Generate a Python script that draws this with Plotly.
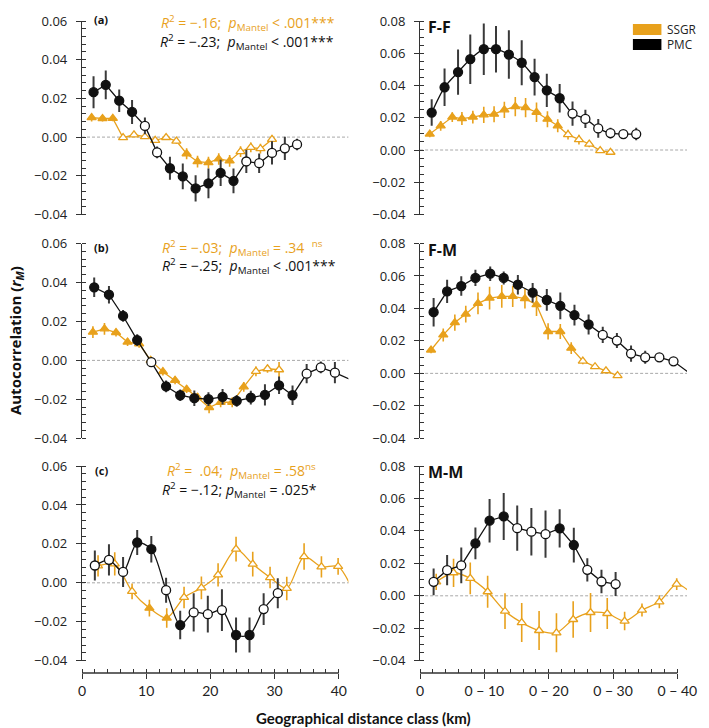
import plotly.graph_objects as go

ORANGE = "#E8A11C"
BLACK = "#111111"

# ---------------- data ----------------
# Panel (a)
a_pmc_x = [1.8, 3.7, 5.8, 7.8, 9.8, 11.7, 13.7, 15.7, 17.7, 19.7, 21.6, 23.6, 25.6, 27.6, 29.6, 31.6, 33.5]
a_pmc_y = [0.0232, 0.0270, 0.0188, 0.0130, 0.0058, -0.0079, -0.0161, -0.0203, -0.0265, -0.0239, -0.0185, -0.0226, -0.0126, -0.0135, -0.0082, -0.0058, -0.0038]
a_pmc_e = [0.0083, 0.0074, 0.0058, 0.0062, 0.0043, 0.0030, 0.0060, 0.0067, 0.0068, 0.0077, 0.0068, 0.0064, 0.0060, 0.0050, 0.0060, 0.0060, 0.0030]
a_pmc_sig = [1, 1, 1, 1, 0, 0, 1, 1, 1, 1, 1, 1, 0, 0, 0, 0, 0]
a_ssgr_x = [1.5, 3.2, 4.8, 6.4, 8.1, 9.8, 11.4, 13.1, 14.7, 16.3, 18.0, 19.7, 21.3, 23.0, 24.7, 26.3, 27.8, 29.6]
a_ssgr_y = [0.0101, 0.0096, 0.0097, -0.0003, 0.0012, 0.0002, -0.0017, -0.0002, -0.0021, -0.0086, -0.0127, -0.0132, -0.0113, -0.0123, -0.0075, -0.0053, -0.0060, -0.0012]
a_ssgr_e = [0.0020, 0.0015, 0.0015, 0.0010, 0.0010, 0.0010, 0.0012, 0.0012, 0.0015, 0.0028, 0.0030, 0.0030, 0.0030, 0.0030, 0.0028, 0.0025, 0.0025, 0.0020]
a_ssgr_sig = [1, 1, 1, 0, 0, 0, 0, 0, 0, 1, 1, 1, 1, 1, 0, 0, 0, 0]

# Panel (b)
b_pmc_x = [1.9, 4.2, 6.4, 8.6, 10.8, 13.1, 15.3, 17.5, 19.7, 21.9, 24.1, 26.3, 28.5, 30.7, 32.8, 35.0, 37.2, 39.4]
b_pmc_y = [0.0375, 0.0337, 0.0228, 0.0104, -0.0009, -0.0133, -0.0179, -0.0194, -0.0199, -0.0187, -0.0208, -0.0191, -0.0177, -0.0128, -0.0179, -0.0068, -0.0036, -0.0063]
b_pmc_e = [0.0050, 0.0045, 0.0030, 0.0030, 0.0020, 0.0030, 0.0030, 0.0040, 0.0035, 0.0040, 0.0030, 0.0035, 0.0055, 0.0045, 0.0050, 0.0050, 0.0030, 0.0055]
b_pmc_sig = [1, 1, 1, 1, 0, 1, 1, 1, 1, 1, 1, 1, 1, 1, 1, 0, 0, 0]
b_pmc_next = (41.6, -0.0095)
b_ssgr_x = [1.7, 3.5, 5.3, 7.1, 8.9, 10.7, 12.6, 14.5, 16.3, 18.0, 19.8, 21.6, 23.4, 25.2, 27.1, 28.9, 30.7]
b_ssgr_y = [0.0145, 0.0162, 0.0143, 0.0094, 0.0085, 0.0000, -0.0058, -0.0102, -0.0148, -0.0190, -0.0242, -0.0215, -0.0215, -0.0136, -0.0056, -0.0043, -0.0048]
b_ssgr_e = [0.0030, 0.0030, 0.0020, 0.0020, 0.0020, 0.0020, 0.0020, 0.0020, 0.0020, 0.0022, 0.0030, 0.0025, 0.0025, 0.0025, 0.0025, 0.0020, 0.0040]
b_ssgr_sig = [1, 1, 1, 1, 1, 0, 1, 1, 1, 1, 1, 1, 1, 1, 0, 0, 0]

# Panel (c)
c_pmc_x = [2.0, 4.2, 6.4, 8.6, 10.8, 13.1, 15.3, 17.4, 19.6, 21.8, 24.0, 26.1, 28.3, 30.5]
c_pmc_y = [0.0089, 0.0118, 0.0056, 0.0207, 0.0173, -0.0038, -0.0217, -0.0152, -0.0161, -0.0140, -0.0268, -0.0268, -0.0135, -0.0053]
c_pmc_e = [0.0077, 0.0080, 0.0077, 0.0064, 0.0068, 0.0064, 0.0073, 0.0098, 0.0094, 0.0107, 0.0090, 0.0090, 0.0081, 0.0077]
c_pmc_sig = [0, 0, 0, 1, 1, 0, 1, 0, 0, 0, 1, 1, 0, 0]
c_ssgr_x = [2.5, 5.1, 7.8, 10.5, 13.2, 15.9, 18.6, 21.2, 24.0, 26.6, 29.3, 31.9, 34.6, 37.3, 39.9]
c_ssgr_y = [0.0087, 0.0097, -0.0044, -0.0130, -0.0181, -0.0075, -0.0026, 0.0041, 0.0173, 0.0096, 0.0027, -0.0029, 0.0135, 0.0082, 0.0084]
c_ssgr_e = [0.0055, 0.0060, 0.0040, 0.0043, 0.0050, 0.0055, 0.0058, 0.0060, 0.0064, 0.0064, 0.0055, 0.0060, 0.0068, 0.0055, 0.0043]
c_ssgr_sig = [0, 0, 0, 1, 1, 0, 0, 0, 0, 0, 0, 0, 0, 0, 0]
c_ssgr_next = (42.5, -0.0060)

# Panel F-F
ff_pmc_x = [1.8, 3.8, 5.9, 7.8, 9.9, 11.8, 13.8, 15.8, 17.8, 19.7, 21.7, 23.7, 25.7, 27.7, 29.6, 31.6, 33.6]
ff_pmc_y = [0.0232, 0.0389, 0.0483, 0.0563, 0.0625, 0.0625, 0.0592, 0.0541, 0.0452, 0.0370, 0.0321, 0.0226, 0.0193, 0.0134, 0.0105, 0.0099, 0.0099]
ff_pmc_e = [0.0082, 0.0116, 0.0140, 0.0154, 0.0160, 0.0144, 0.0150, 0.0139, 0.0114, 0.0103, 0.0088, 0.0075, 0.0057, 0.0058, 0.0033, 0.0020, 0.0039]
ff_pmc_sig = [1, 1, 1, 1, 1, 1, 1, 1, 1, 1, 1, 0, 0, 0, 0, 0, 0]
ff_ssgr_x = [1.5, 3.2, 5.0, 6.5, 8.2, 9.9, 11.5, 13.1, 14.8, 16.4, 18.1, 19.8, 21.4, 23.0, 24.7, 26.3, 28.0, 29.6]
ff_ssgr_y = [0.0099, 0.0150, 0.0204, 0.0195, 0.0204, 0.0218, 0.0222, 0.0249, 0.0269, 0.0263, 0.0234, 0.0191, 0.0150, 0.0095, 0.0064, 0.0037, -0.0004, -0.0014]
ff_ssgr_e = [0.0020, 0.0030, 0.0030, 0.0040, 0.0040, 0.0050, 0.0050, 0.0050, 0.0060, 0.0060, 0.0060, 0.0050, 0.0040, 0.0030, 0.0030, 0.0020, 0.0010, 0.0010]
ff_ssgr_sig = [1, 1, 1, 1, 1, 1, 1, 1, 1, 1, 1, 1, 1, 0, 0, 0, 0, 0]

# Panel F-M
fm_pmc_x = [2.1, 4.2, 6.4, 8.6, 10.9, 13.0, 15.2, 17.5, 19.7, 21.8, 24.0, 26.2, 28.4, 30.6, 32.8, 35.0, 37.2, 39.4]
fm_pmc_y = [0.0377, 0.0505, 0.0538, 0.0588, 0.0614, 0.0588, 0.0546, 0.0497, 0.0452, 0.0416, 0.0359, 0.0301, 0.0237, 0.0202, 0.0122, 0.0099, 0.0099, 0.0074]
fm_pmc_e = [0.0088, 0.0072, 0.0060, 0.0050, 0.0045, 0.0040, 0.0060, 0.0060, 0.0067, 0.0082, 0.0064, 0.0062, 0.0050, 0.0046, 0.0050, 0.0040, 0.0026, 0.0020]
fm_pmc_sig = [1, 1, 1, 1, 1, 1, 1, 1, 1, 1, 1, 1, 0, 0, 0, 0, 0, 0]
fm_pmc_next = (41.6, 0.0010)
fm_ssgr_x = [1.7, 3.6, 5.4, 7.1, 9.0, 10.8, 12.7, 14.4, 16.3, 18.1, 19.9, 21.8, 23.5, 25.3, 27.2, 28.9, 30.7]
fm_ssgr_y = [0.0144, 0.0237, 0.0313, 0.0365, 0.0431, 0.0464, 0.0474, 0.0474, 0.0460, 0.0423, 0.0258, 0.0258, 0.0155, 0.0076, 0.0041, 0.0016, -0.0014]
fm_ssgr_e = [0.0020, 0.0040, 0.0050, 0.0052, 0.0067, 0.0070, 0.0070, 0.0065, 0.0060, 0.0070, 0.0050, 0.0046, 0.0036, 0.0020, 0.0010, 0.0010, 0.0010]
fm_ssgr_sig = [1, 1, 1, 1, 1, 1, 1, 1, 1, 1, 1, 1, 1, 0, 0, 0, 0]

# Panel M-M
mm_pmc_x = [2.1, 4.2, 6.4, 8.6, 10.8, 13.0, 15.1, 17.3, 19.5, 21.7, 23.9, 26.0, 28.2, 30.4]
mm_pmc_y = [0.0086, 0.0158, 0.0187, 0.0323, 0.0463, 0.0489, 0.0417, 0.0395, 0.0380, 0.0415, 0.0313, 0.0160, 0.0088, 0.0072]
mm_pmc_e = [0.0082, 0.0093, 0.0110, 0.0098, 0.0134, 0.0145, 0.0139, 0.0146, 0.0146, 0.0118, 0.0107, 0.0072, 0.0072, 0.0074]
mm_pmc_sig = [0, 0, 0, 1, 1, 1, 0, 0, 0, 1, 1, 0, 0, 0]
mm_ssgr_x = [2.5, 5.2, 7.8, 10.5, 13.2, 15.8, 18.5, 21.2, 23.8, 26.5, 29.1, 31.8, 34.5, 37.2, 39.9]
mm_ssgr_y = [0.0086, 0.0142, 0.0107, 0.0025, -0.0095, -0.0165, -0.0214, -0.0228, -0.0146, -0.0103, -0.0109, -0.0156, -0.0088, -0.0037, 0.0072]
mm_ssgr_e = [0.0050, 0.0087, 0.0098, 0.0098, 0.0110, 0.0120, 0.0120, 0.0120, 0.0113, 0.0120, 0.0095, 0.0057, 0.0040, 0.0040, 0.0036]
mm_ssgr_sig = [0, 0, 0, 0, 0, 0, 0, 0, 0, 0, 0, 0, 0, 0, 0]
mm_ssgr_next = (42.5, 0.0005)

left_ticks = [0, 10, 20, 30, 40]
left_ticktext = ["0", "10", "20", "30", "40"]
right_ticktext = ["0", "0 \u2212 10", "0 \u2212 20", "0 \u2212 30", "0 \u2212 40"]

SP = "\u00a0\u00a0"
stats = {
    1: [(f"<i>R</i><sup>2</sup> = \u2212.16;{SP}<i>p</i><sub>Mantel</sub> < .001***", ORANGE),
        (f"<i>R</i><sup>2</sup> = \u2212.23;{SP}<i>p</i><sub>Mantel</sub> < .001***", BLACK)],
    3: [(f"<i>R</i><sup>2</sup> = \u2212.03;{SP}<i>p</i><sub>Mantel</sub> = .34{SP}<sup>ns</sup>", ORANGE),
        (f"<i>R</i><sup>2</sup> = \u2212.25;{SP}<i>p</i><sub>Mantel</sub> < .001***", BLACK)],
    5: [(f"<i>R</i><sup>2</sup> =\u00a0 .04;{SP}<i>p</i><sub>Mantel</sub> = .58<sup>ns</sup>", ORANGE),
        (f"<i>R</i><sup>2</sup> = \u2212.12;\u00a0<i>p</i><sub>Mantel</sub> = .025*", BLACK)],
}
panel_labels = {1: "(a)", 3: "(b)", 5: "(c)", 2: "F-F", 4: "F-M", 6: "M-M"}
legend_names = ["SSGR", "PMC"]

# ---------------- geometry ----------------
W, H = 709, 728
ML, MR, MT, MB = 82, 12, 21, 55
PW = W - ML - MR
PH = H - MT - MB


def px(x):
    return (x - ML) / PW


def py(y):
    return (H - MB - y) / PH


XMAX = 41.5
left_dom = [0, px(82 + XMAX * 6.525)]
right_dom = [px(425.7), 1.0]
row_px = {1: (21, 214.5), 2: (243.5, 438.3), 3: (466, 660.7)}

fig = go.Figure()


def ax(n, kind):
    return kind if n == 1 else f"{kind}{n}"


def add_series(n, x, y, e, sig, color, symbol, size, spline, nxt=None, ecolor=None, ethick=1.6):
    xs = list(x)
    ys = list(y)
    es = list(e)
    fills = [color if s else "white" for s in sig]
    sizes = [size] * len(x)
    ops = [1] * len(x)
    if nxt is not None:
        xs.append(nxt[0]); ys.append(nxt[1]); es.append(0)
        fills.append(color); sizes.append(0); ops.append(0)
    fig.add_trace(go.Scatter(
        x=xs, y=ys, xaxis=ax(n, "x"), yaxis=ax(n, "y"),
        mode="lines+markers",
        line=dict(color=color, width=1.3, shape="spline" if spline else "linear", smoothing=0.8),
        marker=dict(symbol=symbol, size=sizes, color=fills, opacity=ops,
                    line=dict(color=color, width=1.3)),
        error_y=dict(type="data", array=es, visible=True, width=0,
                     color=ecolor or color, thickness=ethick),
        showlegend=False, hoverinfo="skip", cliponaxis=False,
    ))


OR_E = ORANGE
BK_E = "#3a3a3a"

add_series(1, a_ssgr_x, a_ssgr_y, a_ssgr_e, a_ssgr_sig, ORANGE, "triangle-up", 8, False, ecolor=OR_E)
add_series(1, a_pmc_x, a_pmc_y, a_pmc_e, a_pmc_sig, BLACK, "circle", 9, False, ecolor=BK_E, ethick=2)
add_series(2, ff_ssgr_x, ff_ssgr_y, ff_ssgr_e, ff_ssgr_sig, ORANGE, "triangle-up", 8, False, ecolor=OR_E)
add_series(2, ff_pmc_x, ff_pmc_y, ff_pmc_e, ff_pmc_sig, BLACK, "circle", 9, True, ecolor=BK_E, ethick=2)
add_series(3, b_ssgr_x, b_ssgr_y, b_ssgr_e, b_ssgr_sig, ORANGE, "triangle-up", 8, False, ecolor=OR_E)
add_series(3, b_pmc_x, b_pmc_y, b_pmc_e, b_pmc_sig, BLACK, "circle", 9, False, b_pmc_next, ecolor=BK_E, ethick=2)
add_series(4, fm_ssgr_x, fm_ssgr_y, fm_ssgr_e, fm_ssgr_sig, ORANGE, "triangle-up", 8, False, ecolor=OR_E)
add_series(4, fm_pmc_x, fm_pmc_y, fm_pmc_e, fm_pmc_sig, BLACK, "circle", 9, False, fm_pmc_next, ecolor=BK_E, ethick=2)
add_series(5, c_ssgr_x, c_ssgr_y, c_ssgr_e, c_ssgr_sig, ORANGE, "triangle-up", 8, True, c_ssgr_next, ecolor=OR_E)
add_series(5, c_pmc_x, c_pmc_y, c_pmc_e, c_pmc_sig, BLACK, "circle", 9, True, ecolor=BK_E, ethick=2)
add_series(6, mm_ssgr_x, mm_ssgr_y, mm_ssgr_e, mm_ssgr_sig, ORANGE, "triangle-up", 8, True, mm_ssgr_next, ecolor=OR_E)
add_series(6, mm_pmc_x, mm_pmc_y, mm_pmc_e, mm_pmc_sig, BLACK, "circle", 9, False, ecolor=BK_E, ethick=2)

layout = dict(
    width=W, height=H, margin=dict(l=ML, r=MR, t=MT, b=MB),
    paper_bgcolor="white", plot_bgcolor="white",
    font=dict(family="Open Sans, sans-serif", color="#222"),
    showlegend=False,
)
AX_COL = "#333"
shapes = []
annotations = []
for n in range(1, 7):
    row = (n + 1) // 2
    left = (n % 2 == 1)
    y0px, y1px = row_px[row]
    xa = dict(domain=left_dom if left else right_dom, range=[0, XMAX],
              showgrid=False, zeroline=False, showline=False, fixedrange=True)
    if row < 3:
        xa.update(visible=False, anchor=ax(n, "y"))
    else:
        xa.update(anchor="free", position=0, tickmode="array", tickvals=left_ticks,
                  ticktext=left_ticktext if left else right_ticktext,
                  ticks="outside", ticklen=5, tickwidth=1.2, tickcolor=AX_COL,
                  tickfont=dict(family="Lato, sans-serif", size=14, color="#222"),
                  minor=dict(ticks="inside", ticklen=4, dtick=2, tick0=0, tickwidth=1, tickcolor=AX_COL,
                             showgrid=False))
        shapes.append(dict(type="line", xref=ax(n, "x"), yref="paper", x0=0, x1=40, y0=0, y1=0,
                           line=dict(color=AX_COL, width=1.3)))
    ya = dict(domain=[py(y1px), py(y0px)], anchor=ax(n, "x"),
              range=[-0.04, 0.06] if left else [-0.04, 0.08],
              tickmode="array",
              tickvals=[-0.04, -0.02, 0, 0.02, 0.04, 0.06] if left else [-0.04, -0.02, 0, 0.02, 0.04, 0.06, 0.08],
              tickformat=".2f", ticks="outside", ticklen=5, tickwidth=1.2, tickcolor=AX_COL,
              showline=True, linecolor=AX_COL, linewidth=1.3, showgrid=False, zeroline=False,
              ticklabelstandoff=6,
              tickfont=dict(family="Open Sans, sans-serif", size=13, color="#222"),
              minor=dict(ticks="inside", ticklen=4, dtick=0.005 if not left else 0.004, tick0=0,
                         tickwidth=1, tickcolor=AX_COL, showgrid=False),
              fixedrange=True)
    layout["xaxis" if n == 1 else f"xaxis{n}"] = xa
    layout["yaxis" if n == 1 else f"yaxis{n}"] = ya
    # zero dashed line
    shapes.append(dict(type="line", xref=f"{ax(n, 'x')} domain", yref=ax(n, "y"), x0=0, x1=1, y0=0, y1=0,
                       line=dict(color="#a8a8a8", width=1, dash="3px,2px"), layer="below"))

# panel labels
lab_pos = {1: (92, 20), 3: (92.5, 247.5), 5: (93, 470.5), 2: (431.5, 27), 4: (431.5, 250), 6: (431.5, 472)}
for n, t in panel_labels.items():
    xx, yy = lab_pos[n]
    annotations.append(dict(text=f"<b>{t}</b>", xref="paper", yref="paper", x=px(xx), y=py(yy),
                            xanchor="left", yanchor="middle", showarrow=False,
                            font=dict(size=11 if n % 2 == 1 else 16, color="#111", family="Open Sans, sans-serif")))

stat_pos = {1: [(160, 23), (159.3, 42)], 3: [(161.7, 248), (161.7, 266)], 5: [(166.7, 471), (161.7, 489.5)]}
for n, lines in stats.items():
    for (txt, col), (xx, yy) in zip(lines, stat_pos[n]):
        annotations.append(dict(text=txt, xref="paper", yref="paper", x=px(xx), y=py(yy),
                                xanchor="left", yanchor="middle", showarrow=False,
                                font=dict(size=14, color=col, family="Open Sans, sans-serif")))

# legend (swatches + one two-line text block)
for (y0, y1, col) in [(24, 35, ORANGE), (39, 50, "#000000")]:
    shapes.append(dict(type="rect", xref="paper", yref="paper", x0=px(642), x1=px(671), y0=py(y1), y1=py(y0),
                       fillcolor=col, line=dict(width=0)))
annotations.append(dict(text="<br>".join(legend_names), xref="paper", yref="paper", x=px(675), y=py(37),
                        xanchor="left", yanchor="middle", showarrow=False, align="left",
                        font=dict(size=11.8, color="#222", family="Open Sans, sans-serif")))

# axis titles
annotations.append(dict(text="<b>Autocorrelation (<i>r<sub>M</sub></i>)</b>", xref="paper", yref="paper",
                        x=px(15), y=py(341), textangle=-90, xanchor="center", yanchor="middle",
                        showarrow=False, font=dict(size=15, color="#111", family="Open Sans, sans-serif")))
annotations.append(dict(text="<b>Geographical distance class (km)</b>", xref="paper", yref="paper",
                        x=px(368), y=py(718), xanchor="center", yanchor="middle",
                        showarrow=False, font=dict(size=15, color="#111", family="Lato, sans-serif")))

layout["shapes"] = shapes
layout["annotations"] = annotations
fig.update_layout(**layout)
fig.write_html("out.html", config={"displayModeBar": False},
               post_script="document.body.style.margin='0px';document.body.style.overflow='hidden';")
